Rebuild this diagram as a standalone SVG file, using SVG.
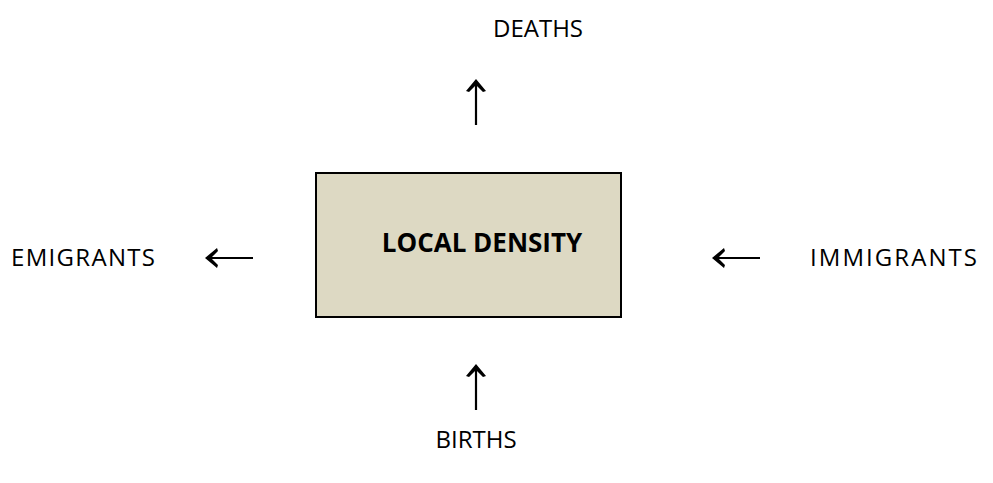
<svg xmlns="http://www.w3.org/2000/svg" width="993" height="483" viewBox="0 0 993 483">
<style>
.lbl{font-family:"Open Sans","Liberation Sans",sans-serif;font-size:24px;fill:#000}
.box{fill:#DDD9C3;stroke:#000;stroke-width:2}
.ttl{font-family:"Open Sans","Liberation Sans",sans-serif;font-size:26px;font-weight:bold;fill:#000}
.arr{stroke:#000;stroke-width:2.2;fill:none}
.head{fill:#000}
</style>
<rect width="993" height="483" fill="#fff"/>
<g id="local-density">
<rect class="box" x="316" y="173" width="305" height="144"/>
<text class="ttl" x="482" y="252" text-anchor="middle">LOCAL DENSITY</text>
</g>
<g id="deaths"><text class="lbl" x="538" y="37" text-anchor="middle">DEATHS</text></g>
<g id="births"><text class="lbl" x="476" y="448" text-anchor="middle">BIRTHS</text></g>
<g id="emigrants"><text class="lbl" x="11" y="266" textLength="144" lengthAdjust="spacing">EMIGRANTS</text></g>
<g id="immigrants"><text class="lbl" x="810" y="266" textLength="167" lengthAdjust="spacing">IMMIGRANTS</text></g>
<g id="connectors">
<path class="arr" d="M476 125V82"/>
<path class="head" d="M476 79 L486 91 L483 92 L476 85 L469 92 L466 91Z"/>
<path class="arr" d="M476 410V368"/>
<path class="head" d="M476 364 L486 376 L483 377 L476 370 L469 377 L466 376Z"/>
<path class="arr" d="M253 258H208"/>
<path class="head" d="M205 258 L217 248 L218 251 L211 258 L218 265 L217 268Z"/>
<path class="arr" d="M760 258H715"/>
<path class="head" d="M712 258 L724 248 L725 251 L718 258 L725 265 L724 268Z"/>
</g>
</svg>
